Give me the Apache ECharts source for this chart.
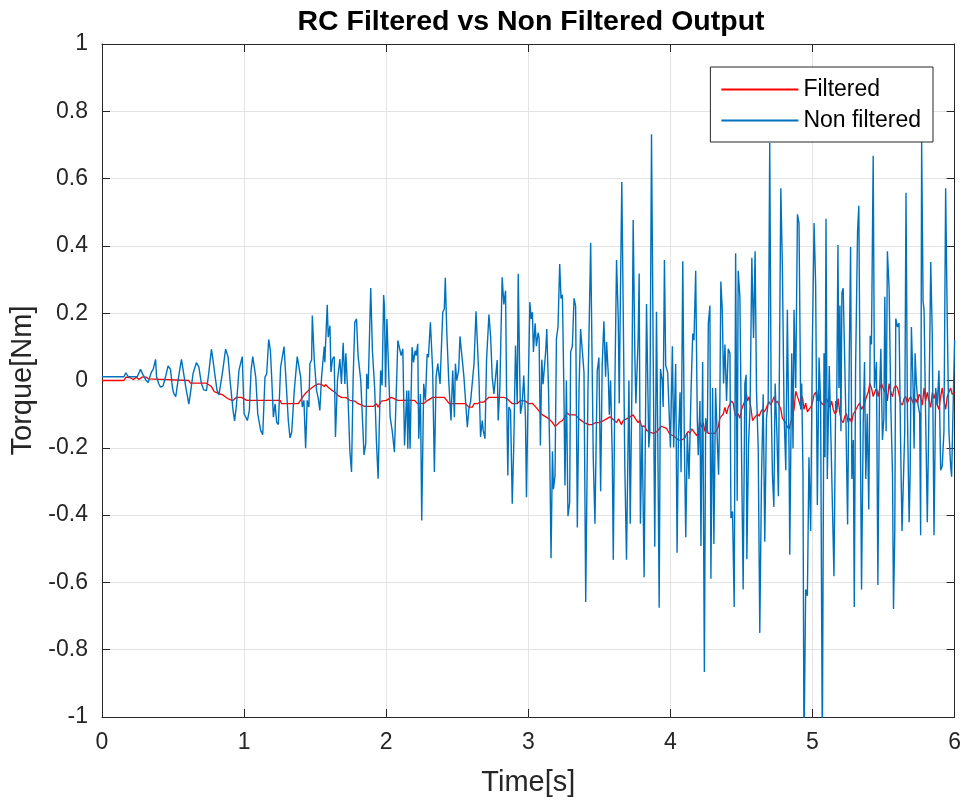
<!DOCTYPE html>
<html>
<head>
<meta charset="utf-8">
<title>RC Filtered vs Non Filtered Output</title>
<script src="https://cdn.jsdelivr.net/npm/echarts@6/dist/echarts.min.js"></script>
<style>
  html, body { margin: 0; padding: 0; background: #fff; }
  #chart { width: 964px; height: 802px; }
</style>
</head>
<body>
<div id="chart"></div>
<script>
const xTicks = { min: 0, max: 6, step: 1 }
const yTicks = { min: -1, max: 1, step: 0.2 }
const legendNames = ['Filtered', 'Non filtered']

// [time s, torque Nm]
const filtered = [
  [0, 0], [0.154, 0], [0.168, 0.01], [0.2, 0.008], [0.22, 0.003], [0.245, 0.01], [0.26, 0.003], [0.28, 0.01],
  [0.31, 0.01], [0.325, 0.005], [0.337, 0], [0.611, 0], [0.622, -0.008], [0.735, -0.008], [0.77, -0.018],
  [0.79, -0.033], [0.82, -0.038], [0.85, -0.043], [0.89, -0.055], [0.92, -0.06], [0.945, -0.05], [0.98, -0.05],
  [1.019, -0.059], [1.253, -0.059], [1.264, -0.069], [1.381, -0.069], [1.405, -0.054], [1.428, -0.04],
  [1.451, -0.03], [1.475, -0.022], [1.498, -0.015], [1.522, -0.01], [1.545, -0.012], [1.564, -0.018],
  [1.573, -0.012], [1.592, -0.02], [1.615, -0.028], [1.639, -0.035], [1.662, -0.045], [1.685, -0.05],
  [1.72, -0.051], [1.744, -0.059], [1.779, -0.061], [1.802, -0.069], [1.849, -0.077], [1.908, -0.077],
  [1.931, -0.069], [1.943, -0.079], [1.966, -0.061], [2.001, -0.059], [2.035, -0.05], [2.082, -0.059],
  [2.199, -0.059], [2.222, -0.069], [2.269, -0.067], [2.292, -0.059], [2.327, -0.05], [2.409, -0.05],
  [2.444, -0.069], [2.524, -0.069], [2.559, -0.069], [2.582, -0.079], [2.606, -0.079], [2.618, -0.069],
  [2.641, -0.069], [2.664, -0.064], [2.687, -0.064], [2.699, -0.069], [2.723, -0.05], [2.828, -0.05],
  [2.851, -0.054], [2.887, -0.069], [2.922, -0.069], [2.945, -0.059], [2.98, -0.061], [3.003, -0.069],
  [3.029, -0.068], [3.053, -0.079], [3.076, -0.091], [3.1, -0.102], [3.123, -0.108], [3.146, -0.114],
  [3.17, -0.125], [3.188, -0.136], [3.205, -0.131], [3.216, -0.125], [3.24, -0.119], [3.275, -0.096],
  [3.287, -0.102], [3.333, -0.102], [3.357, -0.114], [3.392, -0.125], [3.427, -0.131], [3.45, -0.131],
  [3.474, -0.125], [3.497, -0.125], [3.53, -0.119], [3.551, -0.114], [3.574, -0.108], [3.598, -0.116],
  [3.612, -0.114], [3.621, -0.125], [3.635, -0.114], [3.656, -0.131], [3.668, -0.119], [3.691, -0.114],
  [3.715, -0.108], [3.738, -0.102], [3.75, -0.111], [3.761, -0.114], [3.773, -0.125], [3.785, -0.119],
  [3.797, -0.136], [3.82, -0.136], [3.832, -0.148], [3.855, -0.153], [3.879, -0.157], [3.902, -0.153],
  [3.937, -0.136], [3.949, -0.131], [3.972, -0.142], [3.995, -0.159], [4.023, -0.165], [4.033, -0.17],
  [4.056, -0.177], [4.08, -0.177], [4.103, -0.17], [4.115, -0.157], [4.126, -0.151], [4.138, -0.157],
  [4.15, -0.144], [4.173, -0.157], [4.185, -0.164], [4.196, -0.151], [4.208, -0.125], [4.22, -0.138],
  [4.231, -0.125], [4.243, -0.151], [4.255, -0.144], [4.267, -0.157], [4.29, -0.157], [4.313, -0.157],
  [4.337, -0.138], [4.348, -0.112], [4.36, -0.106], [4.372, -0.099], [4.384, -0.08], [4.395, -0.099],
  [4.407, -0.08], [4.419, -0.08], [4.43, -0.061], [4.442, -0.067], [4.454, -0.099], [4.465, -0.106],
  [4.477, -0.099], [4.489, -0.112], [4.501, -0.086], [4.512, -0.073], [4.524, -0.061], [4.533, -0.035],
  [4.543, -0.061], [4.554, -0.048], [4.566, -0.08], [4.578, -0.119], [4.59, -0.112], [4.601, -0.112],
  [4.613, -0.099], [4.625, -0.106], [4.636, -0.093], [4.648, -0.086], [4.66, -0.093], [4.671, -0.086],
  [4.683, -0.073], [4.695, -0.063], [4.706, -0.073], [4.718, -0.061], [4.73, -0.048], [4.742, -0.067],
  [4.753, -0.061], [4.765, -0.073], [4.777, -0.086], [4.788, -0.112], [4.8, -0.119], [4.812, -0.125],
  [4.823, -0.138], [4.835, -0.144], [4.847, -0.125], [4.859, -0.106], [4.87, -0.086], [4.882, -0.032],
  [4.894, -0.048], [4.905, -0.061], [4.917, -0.08], [4.929, -0.048], [4.94, -0.086], [4.952, -0.067],
  [4.964, -0.093], [4.975, -0.086], [4.987, -0.08], [4.999, -0.067], [5.011, -0.041], [5.022, -0.035],
  [5.034, -0.061], [5.041, -0.028], [5.053, -0.061], [5.076, -0.073], [5.099, -0.054], [5.111, -0.067],
  [5.123, -0.08], [5.135, -0.061], [5.146, -0.086], [5.158, -0.099], [5.17, -0.093], [5.181, -0.054],
  [5.193, -0.099], [5.205, -0.119], [5.216, -0.125], [5.228, -0.106], [5.24, -0.099], [5.251, -0.125],
  [5.263, -0.112], [5.275, -0.125], [5.287, -0.099], [5.298, -0.093], [5.31, -0.093], [5.322, -0.073],
  [5.333, -0.067], [5.345, -0.086], [5.357, -0.086], [5.368, -0.067], [5.38, -0.048], [5.392, -0.035],
  [5.403, -0.009], [5.415, -0.022], [5.427, -0.048], [5.438, -0.035], [5.45, -0.022], [5.462, -0.048],
  [5.474, -0.022], [5.485, -0.009], [5.497, -0.022], [5.509, -0.035], [5.516, -0.022], [5.527, -0.061],
  [5.539, -0.009], [5.551, -0.035], [5.563, -0.048], [5.574, -0.022], [5.586, -0.015], [5.598, -0.022],
  [5.609, -0.041], [5.621, -0.067], [5.633, -0.073], [5.644, -0.054], [5.656, -0.048], [5.668, -0.067],
  [5.68, -0.054], [5.691, -0.048], [5.703, -0.061], [5.715, -0.073], [5.726, -0.054], [5.738, -0.067],
  [5.75, -0.041], [5.761, -0.048], [5.773, -0.073], [5.785, -0.022], [5.796, -0.061], [5.808, -0.035],
  [5.82, -0.061], [5.832, -0.08], [5.843, -0.035], [5.855, -0.054], [5.867, -0.035], [5.878, -0.073],
  [5.89, -0.086], [5.902, -0.048], [5.913, -0.022], [5.925, -0.061], [5.937, -0.086], [5.948, -0.048],
  [5.96, -0.035], [5.972, -0.022], [5.983, -0.041], [6.0, -0.035]
]

const nonFiltered = [
  [0, 0.011], [0.154, 0.011], [0.168, 0.023], [0.185, 0.011], [0.248, 0.011], [0.271, 0.033], [0.29, 0.016],
  [0.309, 0.001], [0.325, -0.006], [0.337, 0.011], [0.349, 0.026], [0.36, 0.033], [0.377, 0.063], [0.384, 0.011],
  [0.398, -0.008], [0.412, -0.02], [0.43, -0.016], [0.447, 0.011], [0.465, 0.043], [0.482, 0.033], [0.496, -0.023],
  [0.505, -0.038], [0.519, -0.048], [0.529, -0.018], [0.543, 0.021], [0.559, 0.063], [0.571, 0.031], [0.589, -0.018],
  [0.611, -0.07], [0.622, -0.038], [0.641, 0.021], [0.664, 0.053], [0.681, 0.041], [0.699, -0.008], [0.716, -0.028],
  [0.735, -0.03], [0.751, 0.021], [0.77, 0.093], [0.781, 0.061], [0.793, 0.021], [0.809, -0.028], [0.823, -0.043],
  [0.847, 0.021], [0.87, 0.093], [0.887, 0.071], [0.903, -0.008], [0.922, -0.088], [0.933, -0.12], [0.945, -0.078],
  [0.964, 0.031], [0.987, 0.071],
  [1.0, -0.099], [1.012, -0.104], [1.023, -0.119], [1.037, -0.089], [1.049, 0.03], [1.061, 0.071], [1.082, 0.01],
  [1.096, -0.099], [1.108, -0.094], [1.117, -0.149], [1.131, -0.161], [1.147, 0.01], [1.159, 0.02], [1.173, 0.122],
  [1.185, 0.089], [1.194, 0.01], [1.206, -0.109], [1.218, -0.069], [1.229, -0.124], [1.241, -0.131], [1.257, 0.04],
  [1.281, 0.101], [1.295, 0], [1.311, -0.119], [1.323, -0.171], [1.335, -0.153], [1.342, -0.156], [1.353, -0.03],
  [1.363, -0.028], [1.374, 0.071], [1.386, 0.069], [1.398, 0.01], [1.409, -0.079], [1.421, -0.059], [1.433, -0.201],
  [1.444, -0.059], [1.456, -0.079], [1.463, 0.05], [1.475, 0.061], [1.48, 0.193], [1.494, 0.059], [1.51, -0.03],
  [1.522, -0.054], [1.533, -0.089], [1.545, 0.01], [1.564, 0.101], [1.568, 0.054], [1.585, 0.225], [1.592, 0.129],
  [1.604, 0.163], [1.611, 0.025], [1.622, 0.064], [1.634, 0.071], [1.643, -0.168], [1.657, 0], [1.674, 0.064],
  [1.685, -0.01], [1.697, 0.112], [1.709, -0.01], [1.716, 0.081], [1.732, -0.059], [1.744, -0.208], [1.756, -0.272],
  [1.767, 0], [1.779, 0.173], [1.791, 0.183], [1.802, 0.074], [1.821, 0], [1.844, -0.221], [1.856, -0.188],
  [1.863, 0.02], [1.873, -0.025], [1.891, 0.275], [1.903, 0.089], [1.919, -0.025], [1.931, -0.178], [1.943, -0.292],
  [1.954, -0.089], [1.961, 0.03], [1.971, -0.015], [1.982, 0.254],
  [1.988, 0.218], [1.995, -0.02], [2.005, 0.183], [2.019, 0.178], [2.028, -0.109], [2.042, -0.149], [2.058, -0.213],
  [2.082, 0.119], [2.089, 0.124], [2.105, 0.074], [2.117, 0.094], [2.129, -0.193], [2.145, -0.03], [2.152, -0.203],
  [2.159, -0.03], [2.168, -0.203], [2.182, 0.099], [2.192, 0.054], [2.204, 0.089], [2.211, 0.074], [2.222, 0.109],
  [2.229, -0.173], [2.241, -0.04], [2.25, -0.416], [2.264, -0.01], [2.276, -0.059], [2.288, 0.079], [2.297, 0.069],
  [2.311, 0.173], [2.327, 0.03], [2.339, -0.272], [2.351, 0.01], [2.363, 0.05], [2.379, -0.01], [2.398, 0.203],
  [2.409, 0.213], [2.416, 0.305], [2.426, 0.149], [2.44, 0], [2.456, -0.119], [2.468, 0.03], [2.48, -0.109],
  [2.487, 0.05], [2.496, 0], [2.51, 0.03], [2.519, 0.131],
  [2.536, 0.059], [2.547, 0.01], [2.559, 0.012], [2.571, -0.139], [2.582, -0.084], [2.594, -0.062], [2.606, -0.059],
  [2.618, 0.05], [2.632, 0.206], [2.641, 0.119], [2.653, 0], [2.664, -0.168], [2.676, -0.119], [2.683, -0.149],
  [2.695, -0.173], [2.706, 0.059], [2.723, 0.196], [2.735, 0.129], [2.746, 0.01], [2.758, -0.04], [2.77, -0.04],
  [2.781, 0.061], [2.788, -0.119], [2.8, -0.02], [2.816, 0.307], [2.828, 0.226], [2.84, 0.267], [2.847, -0.03],
  [2.856, -0.282], [2.863, -0.079], [2.875, -0.089], [2.887, -0.366], [2.898, -0.188], [2.91, 0.104], [2.922, -0.069],
  [2.929, 0.317], [2.938, 0.059], [2.945, -0.099], [2.957, -0.069], [2.968, 0.015], [2.98, -0.109], [2.987, -0.347],
  [2.996, -0.109], [3.011, 0.233], [3.02, 0.183], [3.029, 0.203],
  [3.036, 0.085], [3.048, 0.17], [3.057, 0.102], [3.069, 0.142], [3.076, 0.125], [3.085, -0.193], [3.095, 0.062],
  [3.104, -0.011], [3.111, -0.011], [3.123, 0.091], [3.13, 0.153], [3.142, -0.023], [3.151, -0.216], [3.16, -0.528],
  [3.17, -0.21], [3.177, -0.323], [3.188, -0.284], [3.198, 0.125], [3.209, 0.159], [3.221, 0.346], [3.23, 0.244],
  [3.24, 0.255], [3.251, -0.045], [3.258, -0.312], [3.268, 0], [3.279, -0.403], [3.291, -0.363], [3.298, 0.085],
  [3.31, 0.102], [3.322, 0.244], [3.333, 0.221], [3.345, -0.437], [3.357, -0.023], [3.368, 0.153], [3.385, 0.062],
  [3.392, 0.023], [3.404, -0.658], [3.42, -0.023], [3.439, 0.409], [3.457, -0.227], [3.469, -0.426], [3.485, 0.028],
  [3.497, 0.068], [3.509, -0.329], [3.52, 0.045],
  [3.532, 0.176], [3.544, 0.011], [3.551, 0.114], [3.563, 0.017], [3.57, -0.102], [3.579, 0], [3.591, -0.227],
  [3.598, -0.533], [3.609, -0.023], [3.621, 0.358], [3.633, 0.182], [3.64, -0.068], [3.649, 0.284], [3.658, 0.59],
  [3.668, 0.204], [3.679, -0.25], [3.691, -0.533], [3.708, 0], [3.717, -0.426], [3.729, -0.023], [3.738, 0.477],
  [3.75, 0.068], [3.757, -0.068], [3.773, 0.125], [3.78, 0.318], [3.789, -0.426], [3.801, -0.136], [3.815, -0.585],
  [3.832, 0.227], [3.848, -0.199], [3.855, -0.159], [3.867, 0.732], [3.878, 0.125], [3.89, -0.494], [3.902, 0.204],
  [3.911, -0.159], [3.921, -0.675], [3.93, 0.034], [3.942, 0], [3.949, -0.079], [3.958, 0.358], [3.967, 0.045],
  [3.981, 0.023], [4.0, -0.199], [4.014, 0.102], [4.023, -0.199],
  [4.037, 0.049], [4.047, -0.512], [4.056, -0.177], [4.068, -0.035], [4.075, -0.273], [4.087, 0.354], [4.098, -0.177],
  [4.108, -0.466], [4.119, -0.157], [4.131, -0.293], [4.145, -0.035], [4.157, 0.139], [4.166, 0.12], [4.178, 0.326],
  [4.189, -0.112], [4.196, -0.222], [4.208, -0.061], [4.215, -0.492], [4.227, 0.055], [4.239, -0.866], [4.248, -0.112],
  [4.26, -0.157], [4.267, 0.171], [4.278, 0.223], [4.285, -0.589], [4.297, -0.022], [4.306, -0.486], [4.318, -0.022],
  [4.33, -0.177], [4.339, -0.28], [4.348, -0.061], [4.355, 0.294], [4.365, 0.21], [4.374, -0.009], [4.384, 0.107],
  [4.395, -0.061], [4.407, 0.094], [4.419, 0.081], [4.426, -0.409], [4.437, -0.389], [4.449, -0.673], [4.459, 0.378],
  [4.47, -0.357], [4.477, 0.326], [4.489, 0.249], [4.501, -0.228], [4.512, -0.621], [4.524, -0.009], [4.533, 0.017],
  [4.538, -0.531], [4.55, -0.189], [4.561, -0.073], [4.573, 0.365], [4.585, 0.126], [4.596, 0.384], [4.606, -0.035],
  [4.618, -0.202], [4.629, -0.75], [4.641, -0.293], [4.653, -0.041], [4.664, -0.479], [4.676, -0.112], [4.688, -0.067],
  [4.699, 0.706], [4.709, -0.061], [4.718, -0.28], [4.728, -0.376], [4.737, -0.009], [4.749, -0.151], [4.76, -0.344],
  [4.777, 0.571], [4.788, 0.339], [4.8, -0.099], [4.812, -0.267], [4.823, 0.21], [4.835, -0.215], [4.84, -0.518],
  [4.854, 0.081], [4.863, -0.202], [4.87, 0.21], [4.882, -0.022], [4.894, 0.494], [4.905, 0.468], [4.917, -0.086],
  [4.924, -0.009], [4.933, -0.28], [4.94, -1.1], [4.952, -0.621], [4.964, -0.64], [4.975, -0.228], [4.987, -0.447],
  [4.999, 0.107], [5.011, 0.468], [5.022, 0.287],
  [5.034, -0.37], [5.046, 0.068], [5.057, -0.061], [5.069, -1.1], [5.081, 0.081], [5.088, -0.228], [5.095, 0.481],
  [5.104, -0.293], [5.118, 0.043], [5.13, -0.177], [5.139, -0.177], [5.151, -0.582], [5.163, -0.061], [5.17, -0.086],
  [5.179, 0.403], [5.186, -0.022], [5.193, 0.223], [5.2, -0.151], [5.207, 0.262], [5.216, 0.274], [5.223, 0.133],
  [5.235, -0.112], [5.247, -0.428], [5.256, -0.035], [5.268, 0.397], [5.277, -0.293], [5.287, -0.177], [5.294, -0.673],
  [5.303, 0.03], [5.317, 0.442], [5.326, 0.519], [5.336, -0.112], [5.345, -0.621], [5.357, -0.125], [5.366, 0.055],
  [5.375, -0.293], [5.385, -0.099], [5.396, -0.383], [5.406, 0.133], [5.415, 0.107], [5.427, 0.668], [5.436, -0.022],
  [5.45, 0.055], [5.46, -0.608], [5.471, -0.048], [5.481, 0.094], [5.492, -0.177], [5.502, -0.112],
  [5.509, 0.249], [5.518, -0.151], [5.527, 0.384], [5.539, 0.274], [5.551, -0.073], [5.563, -0.28], [5.57, -0.679],
  [5.579, -0.447], [5.586, 0.184], [5.598, 0.159], [5.609, 0.171], [5.621, -0.215], [5.63, -0.447], [5.64, -0.447],
  [5.649, -0.151], [5.658, 0.558], [5.668, -0.099], [5.68, -0.421], [5.687, -0.28], [5.696, 0.159], [5.708, -0.022],
  [5.715, -0.202], [5.722, 0.081], [5.731, -0.009], [5.743, -0.073], [5.754, -0.099], [5.761, -0.46], [5.768, 0.713],
  [5.778, 0.236], [5.785, 0.21], [5.794, -0.048], [5.808, -0.421], [5.82, -0.073], [5.832, 0.352], [5.843, 0.133],
  [5.855, -0.46], [5.867, -0.022], [5.878, -0.073], [5.89, 0.03], [5.902, -0.267], [5.913, -0.254], [5.925, -0.151],
  [5.937, 0.571], [5.948, 0.184], [5.96, -0.151], [5.972, -0.254], [5.979, -0.286], [5.991, -0.048], [6.0, 0.12]
]

const font = '"Liberation Sans", Arial, Helvetica, sans-serif'
const axisColor = '#262626'
const gridColor = '#e3e3e3'

const chart = echarts.init(document.getElementById('chart'), null, { renderer: 'canvas' })

function tickFmt(v) {
  return String(Math.round(v * 10) / 10)
}

function frameAxis(base, side) {
  return Object.assign({
    type: 'value',
    position: side,
    axisLine: { show: true, onZero: false, lineStyle: { color: axisColor, width: 1 } },
    axisTick: { show: true, inside: true, length: 8, lineStyle: { color: axisColor, width: 1 } },
    axisLabel: { show: false },
    splitLine: { show: false }
  }, base)
}

chart.setOption({
  animation: false,
  backgroundColor: '#ffffff',
  textStyle: { fontFamily: font },
  title: {
    text: 'RC Filtered vs Non Filtered Output',
    left: 526,
    textAlign: 'center',
    top: 3,
    textStyle: { fontFamily: font, fontSize: 28.5, fontWeight: 'bold', color: '#000' }
  },
  grid: { left: 102, right: 7, top: 44, bottom: 85, containLabel: false },
  legend: {
    data: legendNames,
    orient: 'vertical',
    right: 31,
    top: 67,
    padding: [11, 12, 10, 10],
    itemWidth: 77,
    itemHeight: 14,
    itemGap: 8,
    itemTextGap: 8,
    itemStyle: { opacity: 0 },
    backgroundColor: '#ffffff',
    borderColor: axisColor,
    borderWidth: 1,
    textStyle: { fontFamily: font, fontSize: 23, color: '#000' }
  },
  xAxis: [
    {
      type: 'value',
      min: xTicks.min,
      max: xTicks.max,
      interval: xTicks.step,
      position: 'bottom',
      name: 'Time[s]',
      nameLocation: 'middle',
      nameGap: 51,
      nameTextStyle: { fontFamily: font, fontSize: 29, color: axisColor },
      axisLine: { show: true, onZero: false, lineStyle: { color: axisColor, width: 1 } },
      axisTick: { show: true, inside: true, length: 8, lineStyle: { color: axisColor } },
      axisLabel: { fontFamily: font, fontSize: 23, color: axisColor, margin: 14, formatter: tickFmt },
      splitLine: { show: true, lineStyle: { color: gridColor, width: 1 } }
    },
    frameAxis({ min: xTicks.min, max: xTicks.max, interval: xTicks.step }, 'top')
  ],
  yAxis: [
    {
      type: 'value',
      min: yTicks.min,
      max: yTicks.max,
      interval: yTicks.step,
      position: 'left',
      name: 'Torque[Nm]',
      nameLocation: 'middle',
      nameGap: 57,
      nameRotate: 90,
      nameTextStyle: { fontFamily: font, fontSize: 29, color: axisColor },
      axisLine: { show: true, onZero: false, lineStyle: { color: axisColor, width: 1 } },
      axisTick: { show: true, inside: true, length: 8, lineStyle: { color: axisColor } },
      axisLabel: { fontFamily: font, fontSize: 23, color: axisColor, margin: 14, formatter: tickFmt },
      splitLine: { show: true, lineStyle: { color: gridColor, width: 1 } }
    },
    frameAxis({ min: yTicks.min, max: yTicks.max, interval: yTicks.step }, 'right')
  ],
  series: [
    {
      name: legendNames[0],
      type: 'line',
      data: filtered,
      symbol: 'none',
      clip: true,
      lineStyle: { color: '#ff0000', width: 1.3 },
      itemStyle: { color: '#ff0000' }
    },
    {
      name: legendNames[1],
      type: 'line',
      data: nonFiltered,
      symbol: 'none',
      clip: true,
      lineStyle: { color: '#0072bd', width: 1.4 },
      itemStyle: { color: '#0072bd' }
    }
  ]
})
</script>
</body>
</html>
